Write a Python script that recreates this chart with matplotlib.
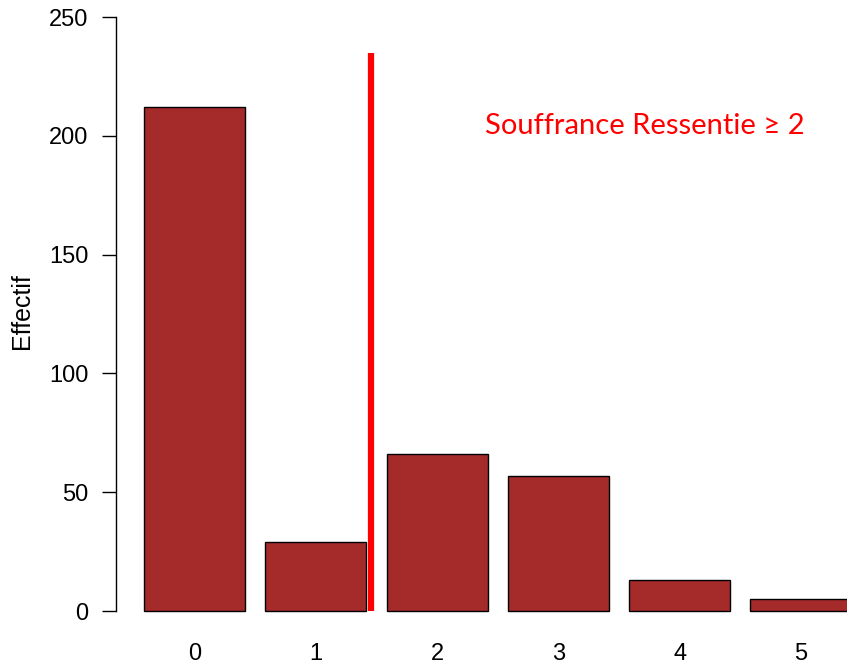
import matplotlib
matplotlib.use("Agg")
import matplotlib.pyplot as plt

categories = ["0", "1", "2", "3", "4", "5"]
counts = [212, 29, 66, 57, 13, 5]
yticks = [0, 50, 100, 150, 200, 250]
cutoff_x = 2.44
cutoff_top = 235
label = "Souffrance Ressentie \u2265 2"

W, H = 847, 666
fig = plt.figure(figsize=(W / 100, H / 100), dpi=100)

# R-style barplot: width 1, space 0.2; axes extend past the cropped figure edges
x0, x1 = -0.08, 7.48
y0, y1 = -10, 260
px_left, px_right = 116, 116 + (x1 - x0) * 101
px_bottom = 611 + 10 * 2.376
px_top = 611 - 260 * 2.376
ax = fig.add_axes([px_left / W, (H - px_bottom) / H,
                   (px_right - px_left) / W, (px_bottom - px_top) / H])

lefts = [0.2 + 1.2 * i for i in range(len(counts))]
centers = [l + 0.5 for l in lefts]
ax.bar(centers, counts, width=1.0, color="#a52a2a", edgecolor="black", linewidth=1.0)
ax.plot([cutoff_x, cutoff_x], [0, cutoff_top], color="red", linewidth=4.5, solid_capstyle="butt")
ax.text(5.16, 204, label, color="red", fontsize=21, family="Lato", ha="center", va="center")

ax.set_xlim(x0, x1)
ax.set_ylim(y0, y1)
for s in ["top", "right", "bottom"]:
    ax.spines[s].set_visible(False)
ax.spines["left"].set_bounds(0, 250)
ax.spines["left"].set_linewidth(1.0)
ax.set_yticks(yticks)
ax.set_yticklabels([str(v) for v in yticks], family="Liberation Sans", fontsize=17)
ax.tick_params(axis="y", length=10, width=1.0, pad=10)
ax.set_xticks(centers)
ax.set_xticklabels(categories, family="Liberation Sans", fontsize=17)
ax.tick_params(axis="x", length=0, pad=6)
fig.text(22 / W, 1 - 311 / H, "Effectif", rotation=90, ha="center", va="center",
         family="Liberation Sans", fontsize=18)

fig.savefig("out.png", dpi=100)
